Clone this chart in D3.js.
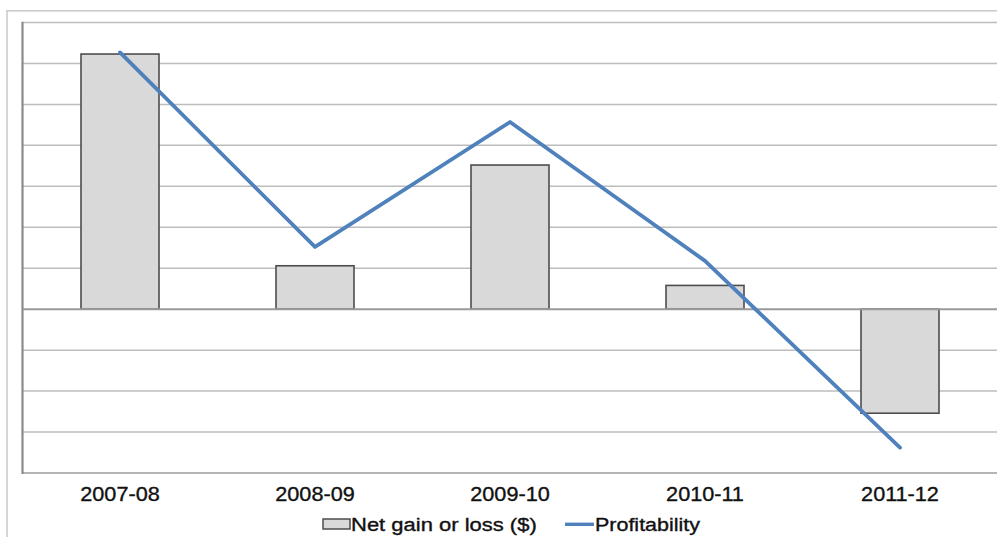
<!DOCTYPE html>
<html>
<head>
<meta charset="utf-8">
<script src="https://cdn.jsdelivr.net/npm/d3@7"></script>
<style>
  html, body { margin: 0; padding: 0; background: #fff; }
  svg { display: block; }
  text { font-family: "Liberation Sans", Arial, Helvetica, sans-serif; fill: #111; stroke: #111; stroke-width: 0.35px; }
</style>
</head>
<body>
<svg id="chart" width="997" height="537"></svg>
<script>
// Financial years shown on the x axis
const years = ["2007-08", "2008-09", "2009-10", "2010-11", "2011-12"];
// Net gain or loss ($ thousands)
const netGainLoss = [62.3, 10.6, 35.2, 5.8, -25.4];
// Profitability, drawn on the same (unlabelled) value axis
const profitability = [62.7, 15.2, 45.7, 11.8, -33.8];
// Horizontal gridline values
const gridTicks = [-40, -30, -20, -10, 0, 10, 20, 30, 40, 50, 60, 70];
// Legend entries
const legendLabels = ["Net gain or loss ($)", "Profitability"];

const svg = d3.select("#chart");
const W = 997, H = 537;
const plot = { left: 22.5, right: 997.5, top: 22.5, bottom: 473 };

// Outer chart-area frame
svg.append("rect")
  .attr("x", 7).attr("y", 10.8)
  .attr("width", W + 20).attr("height", H + 20)
  .attr("fill", "none").attr("stroke", "#c9c9c9").attr("stroke-width", 1.5);

const x = d3.scaleBand().domain(years).range([plot.left, plot.right]).paddingInner(0.6).paddingOuter(0.3);
const xc = d => x(d) + x.bandwidth() / 2;
const y = d3.scaleLinear().domain([-40, 70]).range([plot.bottom, plot.top]);

// Gridlines
svg.append("g").selectAll("line").data(gridTicks.filter(t => t !== 0 && t !== -40)).join("line")
  .attr("x1", plot.left).attr("x2", plot.right)
  .attr("y1", d => y(d)).attr("y2", d => y(d))
  .attr("stroke", "#bdbdbd").attr("stroke-width", 1.5);

// Bottom axis line
svg.append("line")
  .attr("x1", plot.left).attr("x2", plot.right)
  .attr("y1", y(-40)).attr("y2", y(-40))
  .attr("stroke", "#b5b5b5").attr("stroke-width", 1.8);

// Left axis line
svg.append("line")
  .attr("x1", plot.left).attr("x2", plot.left)
  .attr("y1", plot.top - 0.8).attr("y2", plot.bottom + 0.9)
  .attr("stroke", "#8a8a8a").attr("stroke-width", 2.2);

// Bars
svg.append("g").selectAll("rect").data(years).join("rect")
  .attr("x", d => x(d))
  .attr("width", x.bandwidth())
  .attr("y", (d, i) => y(Math.max(0, netGainLoss[i])))
  .attr("height", (d, i) => Math.abs(y(netGainLoss[i]) - y(0)))
  .attr("fill", "#d9d9d9").attr("stroke", "#4d4d4d").attr("stroke-width", 1.6);

// Zero line
svg.append("line")
  .attr("x1", plot.left).attr("x2", plot.right)
  .attr("y1", y(0)).attr("y2", y(0))
  .attr("stroke", "#9a9a9a").attr("stroke-width", 2);

// Profitability line
const line = d3.line().x((d, i) => xc(years[i])).y(d => y(d));
svg.append("path")
  .datum(profitability)
  .attr("d", line)
  .attr("fill", "none").attr("stroke", "#4f81bd").attr("stroke-width", 3.8)
  .attr("stroke-linecap", "round").attr("stroke-linejoin", "round");

// Category labels
svg.append("g").selectAll("text").data(years).join("text")
  .attr("transform", d => `translate(${xc(d)},501) scale(1.11,1)`)
  .attr("text-anchor", "middle")
  .attr("font-size", "19.5px")
  .text(d => d);

// Legend
const lg = svg.append("g");
lg.append("rect")
  .attr("x", 323).attr("y", 519).attr("width", 27).attr("height", 10)
  .attr("fill", "#d9d9d9").attr("stroke", "#4d4d4d").attr("stroke-width", 1.5);
lg.append("text")
  .attr("transform", "translate(351,530.5) scale(1.25,1)")
  .attr("font-size", "17.6px")
  .text(legendLabels[0]);
lg.append("line")
  .attr("x1", 565).attr("x2", 594).attr("y1", 524.3).attr("y2", 524.3)
  .attr("stroke", "#4f81bd").attr("stroke-width", 3.4);
lg.append("text")
  .attr("transform", "translate(595,530.5) scale(1.22,1)")
  .attr("font-size", "17.6px")
  .text(legendLabels[1]);
</script>
</body>
</html>
